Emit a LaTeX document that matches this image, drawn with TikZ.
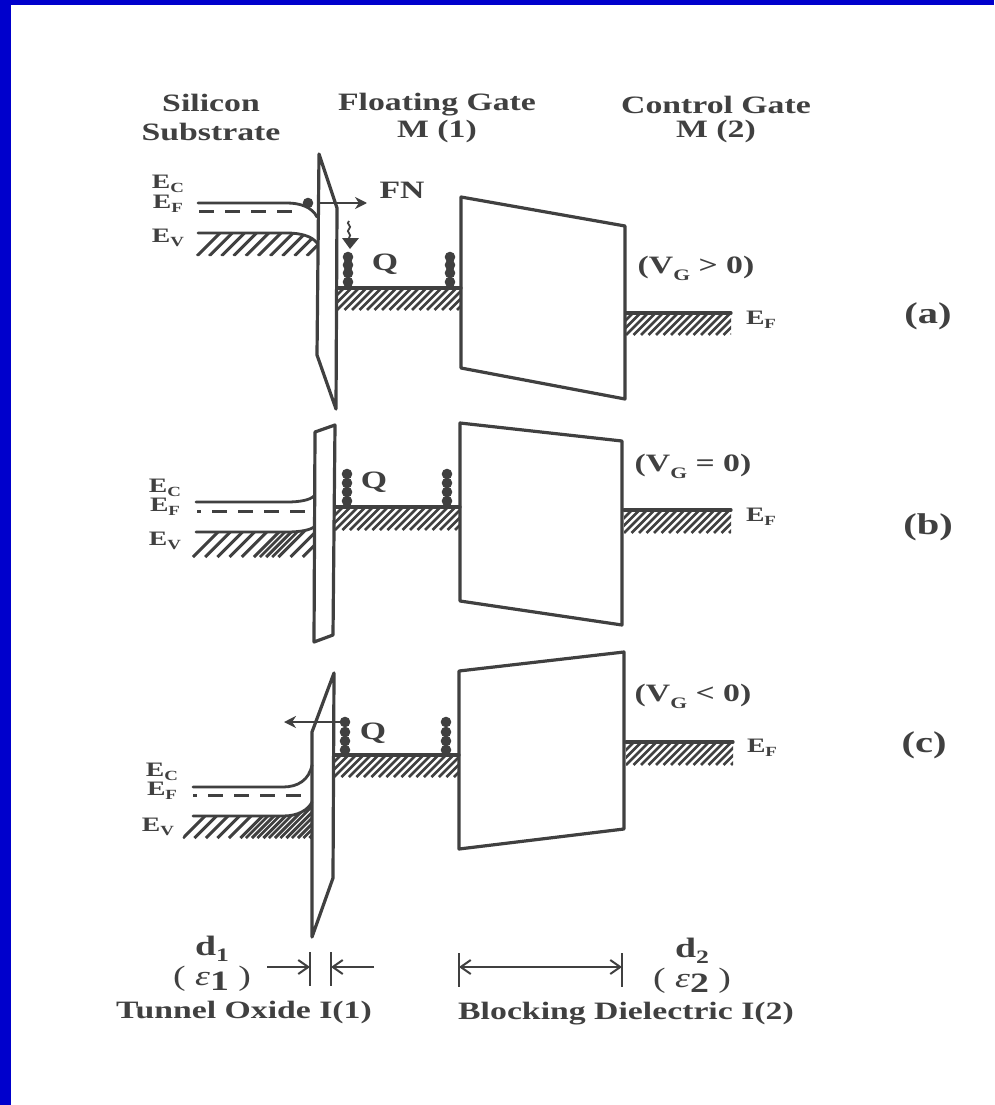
\documentclass[tikz,border=0pt]{standalone}
\usepackage{fontspec}
\setmainfont[FakeStretch=1.35]{Liberation Serif}
\usetikzlibrary{arrows.meta}
\definecolor{ink}{HTML}{404040}
\definecolor{frameblue}{HTML}{0000CC}
\newcommand{\lsub}[1]{\raisebox{-0.22em}{\fontsize{14}{14}\selectfont #1}}
\newcommand{\gsub}[1]{\raisebox{-0.28em}{\fontsize{16}{16}\selectfont #1}}
\newcommand{\bsub}[1]{\raisebox{-0.22em}{\fontsize{19}{19}\selectfont #1}}
\tikzset{
  x=1pt,y=-1pt,
  band/.style={draw=ink,line width=3.2pt,line join=round,line cap=round},
  thinband/.style={draw=ink,line width=2.8pt,line cap=round},
  dashband/.style={draw=ink,line width=3pt,dash pattern=on 15pt off 11pt},
  hatchline/.style={draw=ink,line width=2.6pt},
  head/.style={font=\bfseries\fontsize{25}{25}\selectfont,text=ink,inner sep=0pt,yshift=-1.5pt},
  vlab/.style={font=\bfseries\fontsize{25}{25}\selectfont,text=ink,inner sep=0pt},
  tag/.style={font=\bfseries\fontsize{30}{30}\selectfont,text=ink,inner sep=0pt},
  lvl/.style={font=\bfseries\fontsize{20.5}{20.5}\selectfont,text=ink,inner sep=0pt},
  dotq/.style={fill=ink,draw=none},
  dim/.style={draw=ink,line width=2pt},
  flow/.style={draw=ink,line width=2pt,-{Stealth[length=12pt,width=12pt]}},
  barb/.style={-{Straight Barb[length=10pt,width=14pt]}},
}
% region hatch: x1 y1 x2 y2 spacing
\newcommand{\hatchbox}[5]{%
  \begin{scope}
    \clip (#1,#2) rectangle (#3,#4);
    \pgfmathsetmacro{\hh}{#4-#2}
    \foreach \k in {-10,...,60}{
      \pgfmathsetmacro{\xx}{#1+\k*#5}
      \draw[hatchline] (\xx,#4) -- (\xx+\hh,#2);
    }
  \end{scope}}
\newcommand{\qdots}[5]{%
  \foreach \yy in {#2,#3,#4,#5}{\fill[dotq] (#1,\yy) circle (5.3pt);}}
\begin{document}
\begin{tikzpicture}
\useasboundingbox (0,0) rectangle (994,1105);
\fill[white] (0,0) rectangle (994,1105);
\fill[frameblue] (0,0) rectangle (994,5);
\fill[frameblue] (0,0) rectangle (11,1105);

% headers
\node[head] (h1) at (211,101) {Silicon};
\node[head] (h2) at (211,130) {Substrate};
\node[head] (h3) at (437,103) {Floating Gate};
\node[head] (h4) at (437,130) {M (1)};
\node[head] (h5) at (716,103) {Control Gate};
\node[head] (h6) at (716,130) {M (2)};

% ---------- panel a
\begin{scope}
  \clip (198,233) -- (287,233) .. controls (300,233) and (312,236) .. (317,243) -- (317,256) -- (190,256) -- cycle;
  \foreach \k in {0,...,12}{ \draw[hatchline,line width=3pt] (197+\k*12.2,256) -- (197+\k*12.2+23,233); }
\end{scope}
\draw[thinband] (198,203) -- (287,203) .. controls (300,203) and (312,207) .. (317,217);
\draw[dashband] (199,211) -- (293,211);
\draw[thinband] (198,233) -- (287,233) .. controls (300,233) and (312,236) .. (317,243);
\fill[dotq] (308,203) circle (5.3pt);
\draw[band] (319,154) -- (317,355) -- (336,409) -- (337,208) -- cycle;
\draw[flow] (320,203) -- (367,203);
\node[head] (fn) at (402,189) {FN};
\draw[draw=ink,line width=1.8pt] (349,221) .. controls (345,224) and (353,226) .. (349,229) .. controls (345,232) and (353,234) .. (349,238);
\fill[ink] (342,238) -- (359,238) -- (350,249) -- cycle;
\qdots{348}{257}{265}{273}{282}
\qdots{450}{257}{265}{273}{282}
\node[head] (qa) at (385,263) {Q};
\hatchbox{337}{288}{461}{310}{7.5}
\draw[band] (337,288) -- (461,288);
\draw[band] (461,197) -- (625,226) -- (625,399) -- (461,368) -- cycle;
\hatchbox{626}{313}{731}{335}{7.5}
\draw[band] (626,313) -- (731,313);
\node[lvl] (eca) at (168,184) {E\lsub{C}};
\node[lvl] (efa) at (168,204) {E\lsub{F}};
\node[lvl] (eva) at (168,238) {E\lsub{V}};
\node[vlab] (va) at (696,268) {(V\gsub{G} > 0)};
\node[lvl] (efra) at (761,320) {E\lsub{F}};
\node[tag] (la) at (928,316) {(a)};

% ---------- panel b
\begin{scope}
  \clip (196,532) -- (287,532) .. controls (300,532) and (310,530) .. (314,527) -- (314,562) -- (190,562) -- cycle;
  \foreach \k in {0,...,10}{ \draw[hatchline,line width=3pt] (193+\k*12.2,557) -- (193+\k*12.2+30,527); }
  \foreach \k in {0,1}{ \draw[hatchline] (260+\k*12.2,557) -- (260+\k*12.2+30,527); }
\end{scope}
\draw[thinband] (196,502) -- (287,502) .. controls (300,502) and (310,500) .. (314,496);
\draw[dashband,dash phase=11pt] (197,511) -- (307,511);
\draw[thinband] (196,532) -- (287,532) .. controls (300,532) and (310,530) .. (314,527);
\draw[band] (315,432) -- (335,425) -- (333,635) -- (314,642) -- cycle;
\qdots{347}{474}{483}{492}{501}
\qdots{447}{474}{483}{492}{501}
\node[head] (qb) at (374,481) {Q};
\hatchbox{335}{507}{460}{530}{7.5}
\draw[band] (335,507) -- (460,507);
\draw[band] (460,423) -- (622,441) -- (622,625) -- (460,601) -- cycle;
\hatchbox{624}{510}{731}{533}{7.5}
\draw[band] (624,510) -- (731,510);
\node[lvl] (ecb) at (165,488) {E\lsub{C}};
\node[lvl] (efb) at (165,507) {E\lsub{F}};
\node[lvl] (evb) at (165,541) {E\lsub{V}};
\node[vlab] (vb) at (693,466) {(V\gsub{G} = 0)};
\node[lvl] (efrb) at (761,517) {E\lsub{F}};
\node[tag] (lb) at (928,527) {(b)};

% ---------- panel c
\begin{scope}
  \clip (193,816) -- (283,816) .. controls (298,816) and (308,810) .. (312,802) -- (312,843) -- (180,843) -- cycle;
  \foreach \k in {0,...,12}{ \draw[hatchline,line width=3pt] (183+\k*11.5,838) -- (183+\k*11.5+36,802); }
  \foreach \k in {0,...,5}{ \draw[hatchline] (246+\k*11.5,838) -- (246+\k*11.5+36,802); }
\end{scope}
\draw[thinband] (193,787) -- (283,787) .. controls (298,787) and (309,780) .. (312,765);
\draw[dashband,dash phase=11pt] (193,795) -- (304,795);
\draw[thinband] (193,816) -- (283,816) .. controls (298,816) and (308,810) .. (312,802);
\draw[band] (334,673) -- (333,878) -- (312,937) -- (312,732) -- cycle;
\draw[flow] (343,722) -- (284,722);
\qdots{345}{722}{732}{741}{750}
\qdots{446}{722}{732}{741}{750}
\node[head] (qc) at (373,732) {Q};
\hatchbox{334}{755}{459}{777}{7.5}
\draw[band] (334,755) -- (459,755);
\draw[band] (459,671) -- (624,652) -- (624,829) -- (459,849) -- cycle;
\hatchbox{626}{742}{733}{765}{7.5}
\draw[band] (626,742) -- (733,742);
\node[lvl] (ecc) at (162,772) {E\lsub{C}};
\node[lvl] (efc) at (162,791) {E\lsub{F}};
\node[lvl] (evc) at (158,827) {E\lsub{V}};
\node[vlab] (vc) at (693,696) {(V\gsub{G} < 0)};
\node[lvl] (efrc) at (762,748) {E\lsub{F}};
\node[tag] (lc) at (924,745) {(c)};

% ---------- dimensions
\coordinate (t1a) at (310,952); \coordinate (t1b) at (310,986);
\coordinate (t2a) at (331,952); \coordinate (t2b) at (331,986);
\coordinate (t3a) at (459,953); \coordinate (t3b) at (459,987);
\coordinate (t4a) at (622,953); \coordinate (t4b) at (622,987);
\coordinate (a1) at (267,967); \coordinate (a1e) at (310,967);
\coordinate (a2) at (374,967); \coordinate (a2e) at (331,967);
\coordinate (a3) at (459,967); \coordinate (a3e) at (622,967);
\draw[dim] (t1a) -- (t1b);
\draw[dim] (t2a) -- (t2b);
\draw[dim] (t3a) -- (t3b);
\draw[dim] (t4a) -- (t4b);
\draw[dim,barb] (a1) -- (a1e);
\draw[dim,barb] (a2) -- (a2e);
\draw[dim,barb] (a3) -- (a3e);
\draw[dim,barb] (a3e) -- (a3);
\node[head,font=\bfseries\fontsize{28}{28}\selectfont] (d1) at (212,947) {d\bsub{1}};
\node[head,font=\fontsize{28}{28}\selectfont] (e1) at (212,977) {( \textit{ε}\raisebox{-0.2em}{\bfseries 1} )};
\node[head] (to) at (244,1011) {Tunnel Oxide I(1)};
\node[head,font=\bfseries\fontsize{28}{28}\selectfont] (d2) at (692,949) {d\bsub{2}};
\node[head,font=\fontsize{28}{28}\selectfont] (e2) at (692,979) {( \textit{ε}\raisebox{-0.2em}{\bfseries 2} )};
\node[head] (bd) at (626,1012) {Blocking Dielectric I(2)};
\end{tikzpicture}
\end{document}
